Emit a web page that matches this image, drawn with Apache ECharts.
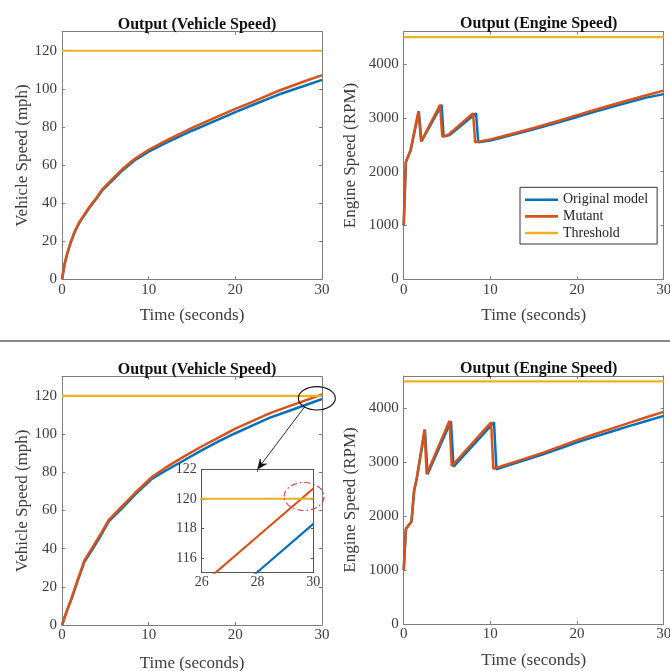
<!DOCTYPE html>
<html>
<head>
<meta charset="utf-8">
<script src="https://cdn.jsdelivr.net/npm/echarts@6/dist/echarts.min.js"></script>
<style>
  html, body { margin: 0; padding: 0; background: #fff; }
  #chart { width: 670px; height: 671px; }
</style>
</head>
<body>
<div id="chart"></div>
<script>
// ---- Scenario 1: vehicle speed (mph) ----
const vs1Time = [0, 0.3, 0.6, 1.0, 1.5, 2.0, 3.0, 4.0, 4.7, 6.0, 7.0, 8.4, 10, 12, 15, 18, 20, 22, 25, 28, 30];
const vs1Orig = [0, 8, 13.3, 19.2, 25.2, 29.6, 36.5, 42.5, 47, 52.8, 57.3, 62.5, 67, 71.6, 78, 83.8, 87.8, 91.5, 97, 101.6, 104.7];
const vs1Mut  = [0, 8, 13.5, 19.5, 25.5, 30, 37, 43, 47.5, 53.5, 58, 63.3, 68, 72.8, 79.5, 85.5, 89.5, 93.2, 99, 104, 107.2];

// ---- Scenario 1: engine speed (RPM) ----
const eng1TimeOrig = [0, 0.25, 0.8, 1.75, 2.05, 4.38, 4.6, 5.3, 8.35, 8.6, 10, 12, 15, 18, 20, 22, 25, 28, 30];
const eng1Orig     = [1000, 2180, 2400, 3120, 2560, 3240, 2650, 2680, 3085, 2545, 2580, 2660, 2785, 2920, 3015, 3110, 3245, 3375, 3440];
const eng1TimeMut  = [0, 0.25, 0.8, 1.7, 2.0, 4.2, 4.45, 5.2, 8.0, 8.25, 10, 12, 15, 18, 20, 22, 25, 28, 30];
const eng1Mut      = [1000, 2180, 2400, 3120, 2560, 3240, 2650, 2690, 3085, 2545, 2600, 2680, 2810, 2950, 3050, 3145, 3285, 3420, 3506];

// ---- Scenario 2: vehicle speed (mph) ----
const vs2Time = [0, 0.6, 1.1, 1.8, 2.6, 3.5, 4.5, 5.4, 7, 8.5, 10.4, 12, 14, 16, 18, 20, 22, 24, 26, 28, 30];
const vs2Orig = [0, 7.8, 13.7, 23, 33.2, 39.5, 47, 54.2, 61.5, 68.5, 76.6, 80.9, 86, 91.2, 96, 100.4, 104.5, 108.55, 111.8, 115.05, 118.3];
const vs2Mut  = [0, 8, 14, 23.6, 34, 40.5, 48, 55, 62.5, 69.5, 77.6, 82.5, 88, 93.2, 98, 102.8, 106.9, 110.95, 114.2, 117.45, 120.7];

// ---- Scenario 2: engine speed (RPM) ----
const eng2TimeOrig = [0, 0.25, 0.9, 1.2, 1.5, 2.45, 2.75, 5.45, 5.75, 10.42, 10.7, 12, 14, 16, 18, 20, 22, 24, 26, 28, 30];
const eng2Orig     = [1000, 1760, 1900, 2470, 2690, 3600, 2780, 3760, 2920, 3740, 2870, 2940, 3040, 3145, 3255, 3370, 3470, 3570, 3670, 3765, 3860];
const eng2TimeMut  = [0, 0.25, 0.9, 1.2, 1.5, 2.4, 2.65, 5.28, 5.55, 10.08, 10.35, 12, 14, 16, 18, 20, 22, 24, 26, 28, 30];
const eng2Mut      = [1000, 1760, 1900, 2470, 2700, 3610, 2780, 3770, 2930, 3740, 2880, 2965, 3067, 3175, 3290, 3410, 3520, 3625, 3730, 3835, 3935];

// ---- Thresholds and axis ticks ----
const timeSpan = [0, 30];
const speedLimit = 120;
const rpmLimit = 4500;
const speedTicks = [0, 20, 40, 60, 80, 100, 120];
const rpmTicks = [0, 1000, 2000, 3000, 4000];
const timeTicks = [0, 10, 20, 30];
const zoomTimeTicks = [26, 28, 30];
const zoomSpeedTicks = [116, 118, 120, 122];

const seriesNames = ['Original model', 'Mutant', 'Threshold'];
const titleText = ['Output (Vehicle Speed)', 'Output (Engine Speed)'];

// ---- Styling ----
const FONT = '"Liberation Serif", "Times New Roman", serif';
const AXIS_COLOR = '#7d7d7d';
const TEXT_COLOR = '#3c3c3c';
const C_ORIG = '#0072BD', C_MUT = '#D95319', C_THR = '#EDB120';

function pairs(xs, ys) { return xs.map((x, i) => [x, ys[i]]); }

const grids = [
  { left: 62,    top: 31.7, width: 260,   height: 247.6 },
  { left: 403.7, top: 31.7, width: 260,   height: 247.6 },
  { left: 62,    top: 376.7, width: 260,  height: 248.3 },
  { left: 403.7, top: 376,  width: 260,   height: 248 },
  // magnified view inside the lower-left panel
  { left: 201.7, top: 469.3, width: 111.6, height: 103.4, z: 10, show: true, backgroundColor: '#fff', borderWidth: 0 }
];
grids.forEach(g => { g.outerBoundsMode = 'none'; g.containLabel = false; });

const xAxes = [], yAxes = [];

function boxAxes(gi, cfg) {
  const lineColor = cfg.lineColor || AXIS_COLOR;
  const z = cfg.z || 0;
  const fs = cfg.fontSize || 15;
  const tickLen = cfg.tickLen || 3;
  const common = (pos, isX, primary) => {
    const ax = {
      gridIndex: gi, type: 'value', position: pos, z: z,
      min: isX ? cfg.xMin : cfg.yMin,
      max: isX ? cfg.xMax : cfg.yMax,
      axisLine: { show: true, onZero: false, lineStyle: { color: lineColor, width: 1 } },
      axisTick: { show: true, inside: true, length: tickLen, lineStyle: { color: lineColor, width: 1 },
                  customValues: isX ? cfg.xTicks : cfg.yTicks },
      axisLabel: { show: primary, margin: isX ? 3 : 5, color: TEXT_COLOR, fontFamily: FONT, fontSize: fs,
                   customValues: isX ? cfg.xTicks : cfg.yTicks,
                   formatter: v => String(v) },
      splitLine: { show: false }
    };
    if (primary && (isX ? cfg.xName : cfg.yName)) {
      ax.name = isX ? cfg.xName : cfg.yName;
      ax.nameLocation = 'middle';
      ax.nameGap = isX ? cfg.xNameGap : cfg.yNameGap;
      ax.nameTextStyle = { color: TEXT_COLOR, fontFamily: FONT, fontSize: 17 };
    }
    return ax;
  };
  xAxes.push(common('bottom', true, true), common('top', true, false));
  yAxes.push(common('left', false, true), common('right', false, false));
}

boxAxes(0, { xMin: 0, xMax: 30, yMin: 0, yMax: 130, xTicks: timeTicks, yTicks: speedTicks,
             xName: 'Time (seconds)', yName: 'Vehicle Speed (mph)', xNameGap: 28, yNameGap: 31 });
boxAxes(1, { xMin: 0, xMax: 30, yMin: 0, yMax: 4600, xTicks: timeTicks, yTicks: rpmTicks,
             xName: 'Time (seconds)', yName: 'Engine Speed (RPM)', xNameGap: 28, yNameGap: 45 });
boxAxes(2, { xMin: 0, xMax: 30, yMin: 0, yMax: 130, xTicks: timeTicks, yTicks: speedTicks,
             xName: 'Time (seconds)', yName: 'Vehicle Speed (mph)', xNameGap: 30, yNameGap: 31 });
boxAxes(3, { xMin: 0, xMax: 30, yMin: 0, yMax: 4600, xTicks: timeTicks, yTicks: rpmTicks,
             xName: 'Time (seconds)', yName: 'Engine Speed (RPM)', xNameGap: 28, yNameGap: 45 });
boxAxes(4, { xMin: 26, xMax: 30, yMin: 115, yMax: 122, xTicks: zoomTimeTicks, yTicks: zoomSpeedTicks,
             lineColor: '#555', z: 11, fontSize: 14, tickLen: 2.5 });

function lineSeries(gi, name, data, color, width, z) {
  return {
    type: 'line', name: name, xAxisIndex: 2 * gi, yAxisIndex: 2 * gi,
    data: data, showSymbol: false, symbol: 'none', clip: true, z: z || 2,
    lineStyle: { color: color, width: width }, itemStyle: { color: color },
    emphasis: { disabled: true }
  };
}

const thrSpeed = timeSpan.map(t => [t, speedLimit]);
const thrRpm = timeSpan.map(t => [t, rpmLimit]);

const series = [
  lineSeries(0, seriesNames[0], pairs(vs1Time, vs1Orig), C_ORIG, 2.5),
  lineSeries(0, seriesNames[1], pairs(vs1Time, vs1Mut), C_MUT, 2.5),
  lineSeries(0, seriesNames[2], thrSpeed, C_THR, 2.2),

  lineSeries(1, seriesNames[0], pairs(eng1TimeOrig, eng1Orig), C_ORIG, 2.5),
  lineSeries(1, seriesNames[1], pairs(eng1TimeMut, eng1Mut), C_MUT, 2.5),
  lineSeries(1, seriesNames[2], thrRpm, C_THR, 2.2),

  lineSeries(2, seriesNames[0], pairs(vs2Time, vs2Orig), C_ORIG, 2.5),
  lineSeries(2, seriesNames[1], pairs(vs2Time, vs2Mut), C_MUT, 2.5),
  lineSeries(2, seriesNames[2], thrSpeed, C_THR, 2.2),

  lineSeries(3, seriesNames[0], pairs(eng2TimeOrig, eng2Orig), C_ORIG, 2.5),
  lineSeries(3, seriesNames[1], pairs(eng2TimeMut, eng2Mut), C_MUT, 2.5),
  lineSeries(3, seriesNames[2], thrRpm, C_THR, 2.2),

  lineSeries(4, seriesNames[0], pairs(vs2Time, vs2Orig), C_ORIG, 2.2, 12),
  lineSeries(4, seriesNames[1], pairs(vs2Time, vs2Mut), C_MUT, 2.2, 12),
  lineSeries(4, seriesNames[2], thrSpeed, C_THR, 2, 12)
];

const titleStyle = { color: '#111', fontFamily: FONT, fontSize: 16, fontWeight: 'bold' };
const titles = [
  { text: titleText[0], left: 192, top: 12, textAlign: 'center', textStyle: titleStyle },
  { text: titleText[1], left: 533.7, top: 11, textAlign: 'center', textStyle: titleStyle },
  { text: titleText[0], left: 192, top: 357, textAlign: 'center', textStyle: titleStyle },
  { text: titleText[1], left: 533.7, top: 356, textAlign: 'center', textStyle: titleStyle }
];

const chart = echarts.init(document.getElementById('chart'), null, { renderer: 'canvas' });
chart.setOption({
  animation: false,
  backgroundColor: '#fff',
  title: titles,
  grid: grids,
  xAxis: xAxes,
  yAxis: yAxes,
  legend: {
    data: seriesNames.map((n, i) => ({ name: n, itemStyle: { color: [C_ORIG, C_MUT, C_THR][i] } })),
    orient: 'vertical',
    left: 520, top: 187.3,
    padding: [5.5, 9, 4, 5],
    icon: 'rect',
    itemGap: 2.6, itemWidth: 33, itemHeight: 2.6,
    borderColor: '#333', borderWidth: 1, backgroundColor: '#fff',
    selectedMode: false,
    textStyle: { color: '#222', fontFamily: FONT, fontSize: 14, lineHeight: 14 }
  },
  series: series
});

// Callouts: ellipse around the threshold crossing, arrow to the magnified view,
// and a dash-dot ring around the crossing inside that view.
const focusMain = [29.4, 118.7];
const focusZoom = [29.67, 120.16];
const zoomAnchor = [28, 122];

const c = chart.convertToPixel({ gridIndex: 2 }, focusMain);
const r = chart.convertToPixel({ gridIndex: 4 }, focusZoom);
const tip = chart.convertToPixel({ gridIndex: 4 }, zoomAnchor);

const erx = 18.5, ery = 11.7;
const ang = 2.3;
const start = [c[0] + erx * Math.cos(ang), c[1] + ery * Math.sin(ang)];
const dx = tip[0] - start[0], dy = tip[1] - start[1];
const len = Math.hypot(dx, dy);
const ux = dx / len, uy = dy / len, px = -uy, py = ux;
const headL = 10, headW = 4.2, notch = 6.5;
const head = [
  tip,
  [tip[0] - ux * headL + px * headW, tip[1] - uy * headL + py * headW],
  [tip[0] - ux * notch, tip[1] - uy * notch],
  [tip[0] - ux * headL - px * headW, tip[1] - uy * headL - py * headW]
];

chart.setOption({
  graphic: [
    { type: 'rect', left: 0, top: 340, shape: { width: 670, height: 2 }, style: { fill: '#8a8a8a' }, silent: true },
    { type: 'ellipse', shape: { cx: c[0], cy: c[1], rx: erx, ry: ery }, z: 20,
      style: { fill: 'none', stroke: '#111', lineWidth: 1.1 }, silent: true },
    { type: 'line', shape: { x1: start[0], y1: start[1], x2: tip[0] - ux * notch, y2: tip[1] - uy * notch }, z: 20,
      style: { stroke: '#111', lineWidth: 0.9 }, silent: true },
    { type: 'polygon', shape: { points: head }, z: 20,
      style: { fill: '#111', stroke: '#111', lineWidth: 0.5 }, silent: true },
    { type: 'ellipse', shape: { cx: r[0], cy: r[1], rx: 20, ry: 14 }, z: 20,
      style: { fill: 'none', stroke: '#e0322f', lineWidth: 1.1, lineDash: [6, 3, 1.5, 3] }, silent: true }
  ]
});
</script>
</body>
</html>
